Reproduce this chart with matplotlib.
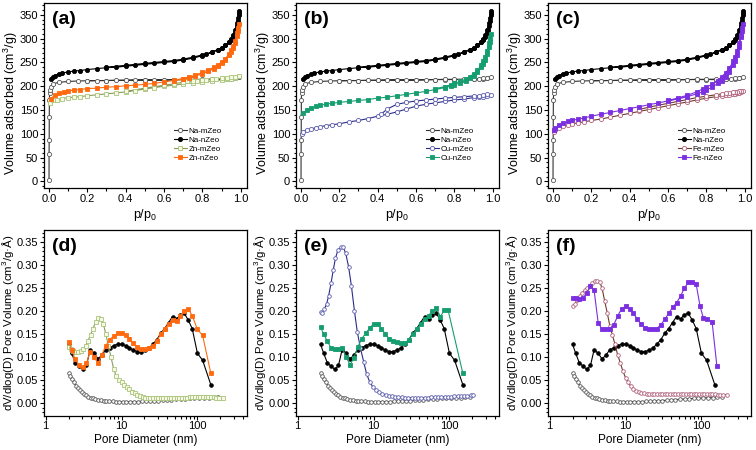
import matplotlib
matplotlib.use('Agg')
import matplotlib.pyplot as plt
from matplotlib.ticker import MultipleLocator, LogLocator, NullFormatter, FixedLocator, FixedFormatter, FormatStrFormatter

plt.rcParams['font.family'] = ['Liberation Sans', 'DejaVu Sans']
plt.rcParams['mathtext.fontset'] = 'custom'
plt.rcParams['mathtext.rm'] = 'Liberation Sans'
plt.rcParams['mathtext.default'] = 'regular'

# ---------------- N2 isotherms (p/p0, cm3/g) ----------------
p_na_m = [0.0002, 0.0005, 0.001, 0.0015, 0.002, 0.003, 0.005, 0.008, 0.02, 0.05,
          0.1, 0.15, 0.2, 0.25, 0.3, 0.35, 0.4, 0.45, 0.5, 0.55,
          0.6, 0.65, 0.7, 0.75, 0.8, 0.85, 0.9, 0.93, 0.95, 0.97, 0.99,
          0.97, 0.95, 0.9, 0.85, 0.8, 0.75, 0.7, 0.6, 0.5, 0.4, 0.3, 0.2]
v_na_m = [2, 58, 87, 135, 170, 185, 193, 199, 205, 208,
          210, 211, 211.5, 212, 212, 212.5, 212.5, 213, 213, 213,
          213, 213.5, 214, 214, 214, 214, 214.5, 215, 216, 217, 219,
          217.5, 216.5, 215.5, 215, 214.5, 214.5, 214, 213.5, 213, 212.5, 212, 211.5]

p_na_n = [0.008, 0.02, 0.03, 0.05, 0.07, 0.1, 0.13, 0.16, 0.2, 0.25,
          0.3, 0.35, 0.4, 0.45, 0.5, 0.55, 0.6, 0.65, 0.7, 0.75,
          0.8, 0.85, 0.88, 0.9, 0.92, 0.94, 0.95, 0.96, 0.97, 0.975,
          0.98, 0.985, 0.99, 0.993,
          0.99, 0.985, 0.98, 0.97, 0.96, 0.95, 0.94, 0.92, 0.9, 0.88,
          0.85, 0.82, 0.8, 0.75, 0.7, 0.65, 0.6, 0.5, 0.4, 0.3]
v_na_n = [215, 219, 222, 226, 228, 230, 232, 233, 235, 237,
          239, 240, 242, 244, 246, 248, 250, 252, 255, 259,
          264, 271, 276, 280, 286, 293, 298, 304, 312, 318,
          326, 337, 350, 358,
          355, 344, 333, 318, 307, 299, 293, 286, 281, 277,
          272, 268, 266, 261, 257, 254, 252, 248, 244, 240]

p_zn_m = [0.005, 0.02, 0.04, 0.07, 0.1, 0.13, 0.16, 0.2, 0.25, 0.3,
          0.35, 0.4, 0.45, 0.5, 0.55, 0.6, 0.65, 0.7, 0.75, 0.8,
          0.85, 0.9, 0.93, 0.95, 0.97, 0.99,
          0.97, 0.95, 0.93, 0.9, 0.87, 0.85, 0.82, 0.8, 0.77, 0.75,
          0.72, 0.7, 0.65, 0.6, 0.5, 0.4]
v_zn_m = [165, 170, 172, 174, 176, 177, 178, 180, 182, 184,
          186, 188, 191, 194, 197, 200, 202, 205, 207, 209,
          211, 213, 215, 216, 218, 222,
          220, 218.5, 217.5, 216.5, 215.5, 215, 214, 213, 212, 211,
          210, 208.5, 205, 202, 196, 189]

p_zn_n = [0.01, 0.03, 0.05, 0.08, 0.1, 0.13, 0.16, 0.2, 0.25, 0.3,
          0.35, 0.4, 0.45, 0.5, 0.55, 0.6, 0.65, 0.7, 0.73, 0.76,
          0.8, 0.83, 0.86, 0.88, 0.9, 0.92, 0.94, 0.95, 0.96, 0.97,
          0.98, 0.985, 0.99,
          0.985, 0.98, 0.97, 0.96, 0.95, 0.94, 0.92, 0.9, 0.88, 0.86,
          0.83, 0.8, 0.76, 0.73, 0.7, 0.65]
v_zn_n = [174, 181, 185, 188, 190, 192, 193, 195, 196, 198,
          199, 201, 202, 204, 206, 209, 212, 215, 218, 221,
          226, 231, 237, 242, 248, 256, 265, 272, 280, 290,
          305, 316, 330,
          322, 311, 295, 284, 276, 268, 258, 251, 245, 240,
          234, 229, 223, 219, 216, 213]

p_cu_m = [0.003, 0.01, 0.03, 0.05, 0.08, 0.1, 0.13, 0.16, 0.2, 0.25,
          0.3, 0.35, 0.4, 0.45, 0.5, 0.55, 0.6, 0.65, 0.7, 0.75,
          0.8, 0.85, 0.9, 0.93, 0.95, 0.97, 0.99,
          0.97, 0.95, 0.93, 0.9, 0.85, 0.8, 0.75, 0.7, 0.65, 0.6,
          0.55, 0.5, 0.45, 0.42]
v_cu_m = [100, 104, 108, 110, 113, 115, 117, 119, 121, 125,
          128, 132, 137, 141, 146, 152, 158, 162, 165, 168,
          171, 173, 176, 177, 178, 180, 182,
          183, 181, 180.5, 179.5, 178, 176.5, 175, 173, 171, 169,
          166, 162, 152, 142]

p_cu_n = [0.01, 0.03, 0.05, 0.08, 0.1, 0.13, 0.16, 0.2, 0.25, 0.3,
          0.35, 0.4, 0.45, 0.5, 0.55, 0.6, 0.65, 0.7, 0.75, 0.78,
          0.8, 0.83, 0.86, 0.88, 0.9, 0.92, 0.94, 0.95, 0.96, 0.97,
          0.98, 0.985, 0.99,
          0.985, 0.98, 0.97, 0.96, 0.95, 0.94, 0.92, 0.9, 0.88, 0.86,
          0.83, 0.8, 0.78, 0.75, 0.7]
v_cu_n = [143, 150, 155, 158, 160, 162, 164, 166, 168, 170,
          172, 175, 177, 180, 183, 186, 189, 193, 197, 200,
          203, 207, 212, 217, 222, 230, 240, 247, 256, 267,
          282, 294, 310,
          302, 290, 275, 262, 252, 244, 234, 226, 220, 215,
          210, 206, 203, 199, 195]

p_fe_m = [0.005, 0.01, 0.03, 0.05, 0.08, 0.1, 0.13, 0.16, 0.2, 0.25,
          0.3, 0.35, 0.4, 0.45, 0.5, 0.55, 0.6, 0.65, 0.7, 0.75,
          0.8, 0.85, 0.88, 0.9, 0.92, 0.94, 0.95, 0.96, 0.97, 0.98, 0.99,
          0.98, 0.97, 0.96, 0.95, 0.94, 0.92, 0.9, 0.88, 0.85, 0.8,
          0.75, 0.7, 0.65, 0.6, 0.55, 0.5, 0.45]
v_fe_m = [104, 108, 113, 116, 119, 121, 123, 125, 128, 131,
          135, 139, 143, 147, 151, 155, 159, 163, 167, 171,
          175, 178, 180, 181, 182, 183, 184, 185, 186, 188, 191,
          190, 189, 188, 187.5, 187, 186, 185, 184, 182, 179,
          176, 172, 168, 164, 160, 156, 151]

p_fe_n = [0.005, 0.01, 0.03, 0.05, 0.08, 0.1, 0.13, 0.16, 0.2, 0.25,
          0.3, 0.35, 0.4, 0.45, 0.5, 0.55, 0.6, 0.65, 0.7, 0.75,
          0.78, 0.8, 0.83, 0.86, 0.88, 0.9, 0.92, 0.94, 0.95, 0.96,
          0.97, 0.98, 0.985, 0.99,
          0.985, 0.98, 0.97, 0.96, 0.95, 0.94, 0.92, 0.9, 0.88, 0.86,
          0.83, 0.8, 0.78, 0.75, 0.7, 0.65, 0.6]
v_fe_n = [108, 112, 118, 122, 126, 128, 131, 133, 137, 141,
          145, 149, 153, 157, 161, 165, 169, 173, 178, 184,
          188, 192, 198, 206, 212, 220, 230, 244, 254, 266,
          282, 303, 316, 330,
          322, 308, 290, 275, 262, 252, 238, 228, 220, 212,
          204, 198, 194, 188, 181, 175, 170]

# ---------------- pore size distributions (nm, cm3/g.A) ----------------
d_na_m = [2.0, 2.1, 2.2, 2.35, 2.5, 2.65, 2.8, 3.0, 3.2, 3.4,
          3.65, 3.9, 4.2, 4.5, 4.9, 5.3, 5.8, 6.3, 6.9, 7.6,
          8.4, 9.3, 10.3, 11.5, 12.9, 14.5, 16.3, 18.4, 20.8, 23.6,
          26.8, 30.5, 34.8, 39.8, 45.5, 52, 60, 69, 79, 91,
          105, 121, 140, 162, 188]
psd_na_m = [0.065, 0.058, 0.052, 0.045, 0.038, 0.033, 0.028, 0.024, 0.020, 0.017,
            0.014, 0.012, 0.010, 0.008, 0.007, 0.006, 0.005, 0.0045, 0.004, 0.0035,
            0.003, 0.003, 0.003, 0.003, 0.003, 0.003, 0.0032, 0.0035, 0.004, 0.0045,
            0.005, 0.0055, 0.006, 0.0068, 0.0075, 0.008, 0.0088, 0.0095, 0.010, 0.0105,
            0.011, 0.0115, 0.012, 0.0125, 0.013]

d_nzeo = [2.0, 2.2, 2.45, 2.75, 3.1, 3.45, 3.85, 4.35, 4.9, 5.5,
          6.2, 7.0, 7.9, 8.9, 10.0, 11.3, 12.7, 14.3, 16.1, 18.1,
          20.4, 23.0, 25.9, 29.2, 32.9, 37.0, 41.7, 47.0, 53.0, 59.7,
          67.2, 75.7, 85.3, 100, 117, 150]
psd_na_n = [0.128, 0.108, 0.088, 0.080, 0.073, 0.082, 0.116, 0.108, 0.096, 0.104,
            0.116, 0.120, 0.125, 0.128, 0.128, 0.125, 0.120, 0.115, 0.112, 0.112,
            0.115, 0.120, 0.128, 0.138, 0.152, 0.162, 0.175, 0.188, 0.183, 0.192,
            0.195, 0.180, 0.162, 0.108, 0.093, 0.040]
psd_zn_n = [0.133, 0.115, 0.095, 0.082, 0.078, 0.086, 0.112, 0.100, 0.086, 0.105,
            0.125, 0.138, 0.146, 0.152, 0.153, 0.148, 0.140, 0.130, 0.122, 0.118,
            0.118, 0.120, 0.125, 0.135, 0.150, 0.162, 0.172, 0.180, 0.178, 0.190,
            0.200, 0.205, 0.190, 0.160, 0.147, 0.065]

d_mzeo = [2.0, 2.15, 2.3, 2.5, 2.7, 2.9, 3.1, 3.35, 3.6, 3.9,
          4.2, 4.55, 4.9, 5.3, 5.75, 6.2, 6.7, 7.25, 7.85, 8.5,
          9.2, 10.0, 10.8, 11.7, 12.7, 13.7, 14.9, 16.1, 17.4, 18.9,
          20.4, 22.1, 24.0, 26.0, 28.1, 30.4, 33.0, 35.7, 38.7, 41.9,
          45.4, 49.2, 53.3, 57.7, 62.5, 67.7, 73.3, 79.4, 86.0, 93.2,
          101, 109, 118, 128, 139, 150, 163, 176, 191, 218]
psd_zn_m = [0.122, 0.117, 0.113, 0.111, 0.112, 0.114, 0.118, 0.125, 0.135, 0.148,
            0.162, 0.176, 0.185, 0.183, 0.172, 0.150, 0.125, 0.100, 0.075, 0.058,
            0.050, 0.045, 0.040, 0.035, 0.030, 0.025, 0.021, 0.018, 0.015, 0.013,
            0.012, 0.011, 0.010, 0.010, 0.010, 0.010, 0.010, 0.010, 0.010, 0.011,
            0.011, 0.011, 0.011, 0.012, 0.012, 0.012, 0.012, 0.013, 0.013, 0.013,
            0.013, 0.013, 0.013, 0.013, 0.013, 0.013, 0.013, 0.012, 0.011, 0.010]
psd_fe_m = [0.210, 0.215, 0.225, 0.232, 0.240, 0.245, 0.250, 0.255, 0.260, 0.265,
            0.265, 0.263, 0.250, 0.222, 0.195, 0.168, 0.148, 0.128, 0.105, 0.088,
            0.070, 0.055, 0.045, 0.037, 0.031, 0.026, 0.024, 0.022, 0.021, 0.020,
            0.020, 0.020, 0.020, 0.020, 0.020, 0.020, 0.020, 0.020, 0.020, 0.020,
            0.020, 0.020, 0.020, 0.020, 0.020, 0.020, 0.020, 0.020, 0.020, 0.020,
            0.019, 0.019, 0.019, 0.019, 0.019, 0.019, 0.018, 0.018, 0.018, 0.018]

d_cu_m = [2.0, 2.1, 2.25, 2.4, 2.55, 2.75, 2.95, 3.15, 3.4, 3.7,
          4.0, 4.3, 4.7, 5.1, 5.6, 6.1, 6.7, 7.4, 8.1, 8.9,
          9.8, 10.8, 11.9, 13.1, 14.4, 15.9, 17.5, 19.3, 21.3, 23.5,
          26, 28.7, 31.7, 35, 38.7, 42.8, 47.3, 52.3, 57.8, 63.9,
          70.6, 78, 86.2, 95.3, 105, 116, 128, 142, 157, 173,
          191, 205]
psd_cu_m = [0.197, 0.196, 0.205, 0.215, 0.232, 0.260, 0.290, 0.315, 0.333, 0.338,
            0.338, 0.325, 0.295, 0.255, 0.200, 0.155, 0.120, 0.090, 0.063, 0.046,
            0.035, 0.028, 0.023, 0.020, 0.018, 0.016, 0.015, 0.014, 0.013, 0.013,
            0.012, 0.012, 0.012, 0.012, 0.012, 0.012, 0.012, 0.012, 0.013, 0.013,
            0.013, 0.013, 0.014, 0.014, 0.014, 0.015, 0.015, 0.015, 0.016, 0.016,
            0.017, 0.017]

d_cu_n = [2.0, 2.2, 2.45, 2.75, 3.1, 3.45, 3.85, 4.35, 4.9, 5.5,
          6.2, 7.0, 7.9, 8.9, 10.0, 11.3, 12.7, 14.3, 16.1, 18.1,
          20.4, 23.0, 25.9, 29.2, 32.9, 37.0, 41.7, 47.0, 53.0, 59.7,
          67.2, 76, 86, 96, 150]
psd_cu_n = [0.165, 0.150, 0.135, 0.120, 0.118, 0.118, 0.120, 0.100, 0.083, 0.098,
            0.122, 0.140, 0.152, 0.163, 0.172, 0.172, 0.162, 0.150, 0.140, 0.135,
            0.132, 0.130, 0.130, 0.138, 0.150, 0.160, 0.172, 0.182, 0.190, 0.200,
            0.206, 0.188, 0.202, 0.202, 0.065]

d_fe_n = [2.0, 2.2, 2.45, 2.75, 3.1, 3.45, 3.85, 4.35, 4.9, 5.5,
          6.2, 7.0, 7.9, 8.9, 10.0, 11.3, 12.7, 14.3, 16.1, 18.1,
          20.4, 23.0, 25.9, 29.2, 32.9, 37.0, 41.7, 47.0, 53.0, 59.7,
          67.2, 75.7, 85.3, 96, 106, 118, 138, 160]
psd_fe_n = [0.228, 0.228, 0.226, 0.228, 0.240, 0.255, 0.245, 0.175, 0.160, 0.160,
            0.162, 0.170, 0.190, 0.205, 0.210, 0.205, 0.195, 0.182, 0.172, 0.163,
            0.160, 0.160, 0.162, 0.170, 0.182, 0.195, 0.208, 0.218, 0.232, 0.250,
            0.262, 0.262, 0.258, 0.210, 0.185, 0.182, 0.177, 0.080]

# marker / colour styles
styles = {
    'Na-mZeo': dict(marker='o', color='#333333', mfc='white', mec='#555555'),
    'Na-nZeo': dict(marker='o', color='black', mfc='black', mec='black'),
    'Zn-mZeo': dict(marker='s', color='#8c9a5e', mfc='#f7f9e4', mec='#a8c47c'),
    'Zn-nZeo': dict(marker='s', color='#ff6a10', mfc='#ff6a10', mec='#ff6a10'),
    'Cu-mZeo': dict(marker='o', color='#2b2b8c', mfc='white', mec='#5c5cae'),
    'Cu-nZeo': dict(marker='s', color='#169e70', mfc='#169e70', mec='#169e70'),
    'Fe-mZeo': dict(marker='o', color='#6e3b2b', mfc='white', mec='#b0607a'),
    'Fe-nZeo': dict(marker='s', color='#7b2fe0', mfc='#7b2fe0', mec='#7b2fe0'),
}

fig = plt.figure(figsize=(7.56, 4.5), dpi=100)


def px_axes(left, top, right, bottom):
    return fig.add_axes([left / 756, 1 - bottom / 450, (right - left) / 756, (bottom - top) / 450])


def style_axes(ax):
    for sp in ax.spines.values():
        sp.set_linewidth(0.9)
    ax.tick_params(which='both', direction='out', top=False, right=False, labelsize=8, pad=1.2, width=0.8)
    ax.tick_params(which='major', length=3)
    ax.tick_params(which='minor', length=1.8)


def draw(ax, x, y, name, ms, label=None):
    ax.plot(x, y, lw=0.8, ms=ms, mew=0.6, label=label, **styles[name])


iso_sets = [
    ('(a)', [(p_na_m, v_na_m, 'Na-mZeo'), (p_na_n, v_na_n, 'Na-nZeo'),
             (p_zn_m, v_zn_m, 'Zn-mZeo'), (p_zn_n, v_zn_n, 'Zn-nZeo')]),
    ('(b)', [(p_na_m, v_na_m, 'Na-mZeo'), (p_na_n, v_na_n, 'Na-nZeo'),
             (p_cu_m, v_cu_m, 'Cu-mZeo'), (p_cu_n, v_cu_n, 'Cu-nZeo')]),
    ('(c)', [(p_na_m, v_na_m, 'Na-mZeo'), (p_na_n, v_na_n, 'Na-nZeo'),
             (p_fe_m, v_fe_m, 'Fe-mZeo'), (p_fe_n, v_fe_n, 'Fe-nZeo')]),
]
psd_sets = [
    ('(d)', [(d_na_m, psd_na_m, 'Na-mZeo'), (d_nzeo, psd_na_n, 'Na-nZeo'),
             (d_mzeo, psd_zn_m, 'Zn-mZeo'), (d_nzeo, psd_zn_n, 'Zn-nZeo')]),
    ('(e)', [(d_na_m, psd_na_m, 'Na-mZeo'), (d_nzeo, psd_na_n, 'Na-nZeo'),
             (d_cu_m, psd_cu_m, 'Cu-mZeo'), (d_cu_n, psd_cu_n, 'Cu-nZeo')]),
    ('(f)', [(d_na_m, psd_na_m, 'Na-mZeo'), (d_nzeo, psd_na_n, 'Na-nZeo'),
             (d_mzeo, psd_fe_m, 'Fe-mZeo'), (d_fe_n, psd_fe_n, 'Fe-nZeo')]),
]

lefts = [44, 296, 548]

# top row: isotherms
for left, (tag, series) in zip(lefts, iso_sets):
    ax = px_axes(left, 3, left + 203, 188)
    for x, y, name in series:
        draw(ax, x, y, name, 3.0, label=name)
    ax.set_xlim(-0.026, 1.033)
    ax.set_ylim(-14, 375)
    ax.xaxis.set_major_locator(MultipleLocator(0.2))
    ax.xaxis.set_minor_locator(MultipleLocator(0.1))
    ax.xaxis.set_major_formatter(FormatStrFormatter('%.1f'))
    ax.yaxis.set_major_locator(MultipleLocator(50))
    ax.yaxis.set_minor_locator(MultipleLocator(10))
    style_axes(ax)
    ax.set_xlabel('p/p$_0$', fontsize=9, labelpad=2)
    ax.set_ylabel('Volume adsorbed (cm$^3$/g)', fontsize=9)
    ax.yaxis.set_label_coords(-0.118, 0.46)
    ax.text(0.04, 0.955, tag, transform=ax.transAxes, ha='left', va='top',
            fontsize=14, fontweight='bold')
    ax.legend(loc='upper left', bbox_to_anchor=(0.64, 0.33), frameon=False, fontsize=5.8,
              handlelength=1.6, handletextpad=0.2, labelspacing=0.18, borderpad=0,
              borderaxespad=0, numpoints=1)

# bottom row: pore size distributions
for left, (tag, series) in zip(lefts, psd_sets):
    ax = px_axes(left, 230, left + 203, 415.5)
    for x, y, name in series:
        draw(ax, x, y, name, 2.6)
    ax.set_xscale('log')
    ax.set_xlim(0.95, 450)
    ax.set_ylim(-0.027, 0.376)
    ax.xaxis.set_major_locator(FixedLocator([1, 10, 100]))
    ax.xaxis.set_major_formatter(FixedFormatter(['1', '10', '100']))
    ax.xaxis.set_minor_locator(LogLocator(base=10, subs=[2, 3, 4, 5, 6, 7, 8, 9]))
    ax.xaxis.set_minor_formatter(NullFormatter())
    ax.yaxis.set_major_locator(MultipleLocator(0.05))
    ax.yaxis.set_minor_locator(MultipleLocator(0.01))
    ax.yaxis.set_major_formatter(FormatStrFormatter('%.2f'))
    style_axes(ax)
    ax.set_xlabel('Pore Diameter (nm)', fontsize=8.5, labelpad=2)
    ax.set_ylabel('dV/dlog(D) Pore Volume (cm$^3$/g·Å)', fontsize=8.2)
    ax.yaxis.set_label_coords(-0.14, 0.5)
    ax.text(0.04, 0.955, tag, transform=ax.transAxes, ha='left', va='top',
            fontsize=14, fontweight='bold')

fig.savefig('out.png', dpi=100)
